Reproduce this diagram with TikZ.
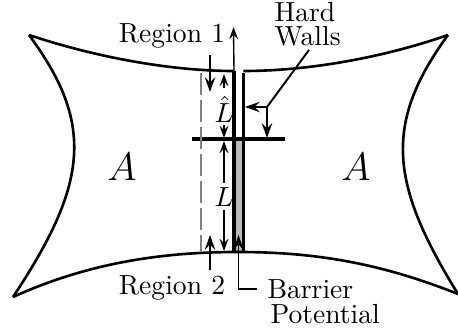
\documentclass[tikz,border=0pt]{standalone}
\usepackage{amsmath,amssymb}
\usetikzlibrary{arrows.meta}
\tikzset{
  bdry/.style={line width=0.95pt},
  wall/.style={line width=1.1pt},
  thin arrow/.style={line width=0.5pt,-{Stealth[length=4.4pt,width=3.2pt,inset=1.6pt]}},
  mid arrow/.style={line width=0.7pt,-{Stealth[length=5.4pt,width=3.8pt,inset=2pt]}},
}
\begin{document}
\begin{tikzpicture}[x=0.3622pt,y=-0.3622pt]
  \useasboundingbox (0,0) rectangle (458,333);
  % Corners of the two A regions and the ends of the gap.
  \coordinate (TL) at (29,35);
  \coordinate (TR) at (448,35);
  \coordinate (BL) at (13,297);
  \coordinate (BR) at (458,294);
  \coordinate (WT1) at (234,71);
  \coordinate (WT2) at (243.3,71);
  \coordinate (WB1) at (234,252);
  \coordinate (WB2) at (243.3,252);
  \coordinate (WM1) at (234,139);
  % Barrier strip.
  \fill[gray!55] (WM1) rectangle (WB2);
  % Outer boundary.
  \draw[bdry] (TL) .. controls (95,57) and (170,71) .. (WT1);
  \draw[bdry] (WT2) .. controls (310,71) and (385,57) .. (TR);
  \draw[bdry] (TL) .. controls (95,124) and (88,184) .. (BL);
  \draw[bdry] (TR) .. controls (383,124) and (390,184) .. (BR);
  \draw[bdry] (BL) .. controls (90,262) and (165,252) .. (238,252);
  \draw[bdry] (238,252) .. controls (320,252) and (385,265) .. (BR);
  % Hard walls and the cross bar.
  \draw[wall] (WT1) -- (WB1);
  \draw[wall] (243.3,73.5) -- (WB2);
  \coordinate (BarL) at (192,139);
  \coordinate (BarR) at (285,139);
  \draw[wall] (BarL) -- (BarR);
  % Dashed cut.
  \draw[gray,line width=0.6pt,dash pattern=on 8pt off 1.8pt] (200.7,73) -- (200.7,252);
  % Upward axis.
  \coordinate (AxisT) at (233.5,27);
  \draw[thin arrow] (WT1) -- (AxisT);
  % Labels.
  \node (A1) at (122,167) {\Large $A$};
  \node (A2) at (356,167) {\Large $A$};
  \node (Lhat) at (224,109) {$\hat{L}$};
  \node (Lbig) at (224,197) {$L$};
  \node (R1) at (172,36) {Region 1};
  \node (R2) at (172,288) {Region 2};
  \node[anchor=west,inner sep=0pt] (HW1) at (274,12) {Hard};
  \node[anchor=west,inner sep=0pt] (HW2) at (274,36) {Walls};
  \node[anchor=west,inner sep=0pt] (BP) at (267,289) {Barrier};
  \node[anchor=west,inner sep=0pt] (PT) at (270,314) {Potential};
  % Length arrows.
  \coordinate (LhT) at (224,74);
  \coordinate (LhB) at (224,138);
  \coordinate (LT) at (224,141);
  \coordinate (LB) at (224,251);
  \draw[thin arrow] (224,88) -- (LhT);
  \draw[thin arrow] (224,125) -- (LhB);
  \draw[thin arrow] (224,183) -- (LT);
  \draw[thin arrow] (224,210) -- (LB);
  % Region arrows.
  \coordinate (R1a) at (210,55);
  \coordinate (R1b) at (210,92);
  \coordinate (R2a) at (210,270);
  \coordinate (R2b) at (210,235);
  \draw[mid arrow] (R1a) -- (R1b);
  \draw[mid arrow] (R2a) -- (R2b);
  % Leader from the wall label.
  \coordinate (HWa) at (309,50);
  \coordinate (HWb) at (267,107);
  \coordinate (HWc) at (245,107);
  \coordinate (HWd) at (267,138);
  \draw[line width=0.7pt] (HWa) -- (HWb);
  \draw[mid arrow] (HWb) -- (HWc);
  \draw[mid arrow] (HWb) -- (HWd);
  % Leader from the barrier label.
  \coordinate (BPa) at (257,289);
  \coordinate (BPb) at (238.5,289);
  \coordinate (BPc) at (238.5,235);
  \draw[mid arrow] (BPa) -- (BPb) -- (BPc);
\end{tikzpicture}
\end{document}
